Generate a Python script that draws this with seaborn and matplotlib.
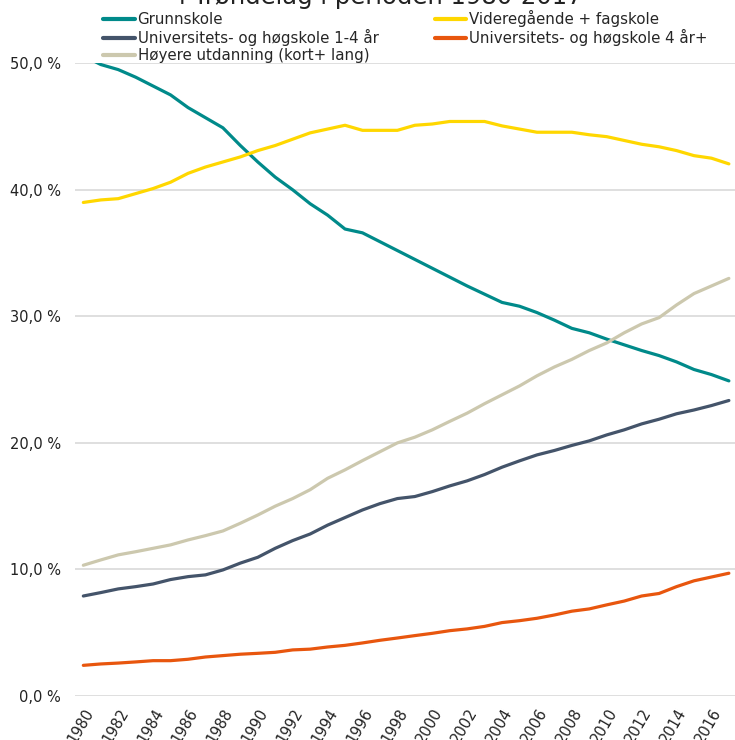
import numpy as np
import pandas as pd
import matplotlib
matplotlib.use("Agg")
import matplotlib.pyplot as plt
import seaborn as sns

# andel av befolkningen etter utdanningsniva, Trondelag 1980-2017 (lest av figuren)
years = list(range(1980, 2018))

grunnskole = [50.6, 49.9, 49.5, 48.9, 48.2, 47.5, 46.5, 45.7, 44.9, 43.5,
              42.2, 41.0, 40.0, 38.9, 38.0, 36.9, 36.6, 35.9, 35.2, 34.5,
              33.8, 33.1, 32.4, 31.75, 31.1, 30.8, 30.3, 29.7, 29.05, 28.7,
              28.2, 27.75, 27.3, 26.9, 26.4, 25.8, 25.4, 24.9]
videregaende = [39.0, 39.2, 39.3, 39.7, 40.1, 40.6, 41.3, 41.8, 42.2, 42.6,
                43.1, 43.5, 44.0, 44.5, 44.8, 45.1, 44.7, 44.7, 44.7, 45.1,
                45.2, 45.4, 45.4, 45.4, 45.05, 44.8, 44.55, 44.55, 44.55, 44.35,
                44.2, 43.9, 43.6, 43.4, 43.1, 42.7, 42.5, 42.05]
uni_1_4 = [7.9, 8.17, 8.46, 8.64, 8.85, 9.2, 9.43, 9.57, 9.96, 10.5,
           10.96, 11.67, 12.28, 12.8, 13.5, 14.1, 14.7, 15.2, 15.6, 15.76,
           16.15, 16.6, 17.0, 17.5, 18.08, 18.58, 19.05, 19.4, 19.8, 20.16,
           20.63, 21.03, 21.5, 21.87, 22.3, 22.6, 22.95, 23.35]
uni_4_pluss = [2.42, 2.53, 2.6, 2.69, 2.79, 2.79, 2.9, 3.08, 3.19, 3.3,
               3.37, 3.45, 3.64, 3.7, 3.87, 4.0, 4.19, 4.4, 4.58, 4.77,
               4.95, 5.16, 5.3, 5.5, 5.8, 5.95, 6.14, 6.4, 6.7, 6.88,
               7.2, 7.5, 7.9, 8.1, 8.64, 9.1, 9.4, 9.7]
hoyere = [10.33, 10.75, 11.15, 11.4, 11.67, 11.94, 12.33, 12.67, 13.04, 13.65,
          14.3, 15.0, 15.6, 16.3, 17.2, 17.87, 18.6, 19.3, 20.0, 20.45,
          21.03, 21.7, 22.35, 23.1, 23.8, 24.5, 25.3, 26.0, 26.6, 27.3,
          27.9, 28.7, 29.4, 29.9, 30.9, 31.8, 32.4, 33.0]

labels = ["Grunnskole", "Videregående + fagskole", "Universitets- og høgskole 1-4 år",
          "Universitets- og høgskole 4 år+", "Høyere utdanning (kort+ lang)"]
colors = ["#008A8A", "#FFD700", "#44546A", "#E8560E", "#CCC8AE"]
year_ticks = list(range(1980, 2017, 2))
y_ticks = [0, 10, 20, 30, 40, 50]

df = pd.DataFrame({
    "aar": years * 5,
    "andel": grunnskole + videregaende + uni_1_4 + uni_4_pluss + hoyere,
    "niva": sum([[lab] * len(years) for lab in labels], []),
})

sns.set_style("white")
plt.rcParams["font.family"] = ["DejaVu Sans"]

fig = plt.figure(figsize=(7.35, 7.40), dpi=100)
ax = fig.add_axes([74.6 / 735, 0.0595, 663 / 735, 0.855])

sns.lineplot(data=df, x="aar", y="andel", hue="niva", hue_order=labels,
             palette=colors, linewidth=2.3, ax=ax, legend=False)

ax.set_xlim(1979.5, 2017.5)
ax.set_ylim(0, 50)
ax.set_yticks(y_ticks)
ax.set_yticklabels([f"{v:.1f} %".replace(".", ",") for v in y_ticks], fontsize=10.5, color="#222222")
ax.set_xticks(year_ticks)
ax.set_xticklabels([str(y) for y in year_ticks], rotation=60, ha="right", va="top",
                   rotation_mode="anchor", fontsize=10.5, color="#222222")
ax.tick_params(axis="both", length=0)
ax.tick_params(axis="y", pad=10)
ax.tick_params(axis="x", pad=7)
ax.grid(axis="y", color="#D9D9D9", linewidth=1.2)
ax.set_axisbelow(True)
for s in ax.spines.values():
    s.set_visible(False)
ax.set_xlabel("")
ax.set_ylabel("")

# legend: 2 kolonner, radvis som i originalen
order = [0, 2, 4, 1, 3]
handles = [plt.Line2D([], [], color=colors[i], linewidth=3) for i in order]
fig.legend(handles, [labels[i] for i in order], ncol=2, loc="upper left",
           bbox_to_anchor=(103 / 735, 0.986), frameon=False, fontsize=10.8,
           borderpad=0, borderaxespad=0, handlelength=2.1, handletextpad=0.2,
           labelspacing=0.12, columnspacing=3.75)

# tittelen er kuttet i toppen i originalen
fig.text(0.518, 1 - 4 / 740, "i Trøndelag i perioden 1980-2017", ha="center",
         va="baseline", fontsize=17.5, color="#222222")

fig.savefig("out.png", dpi=100)
